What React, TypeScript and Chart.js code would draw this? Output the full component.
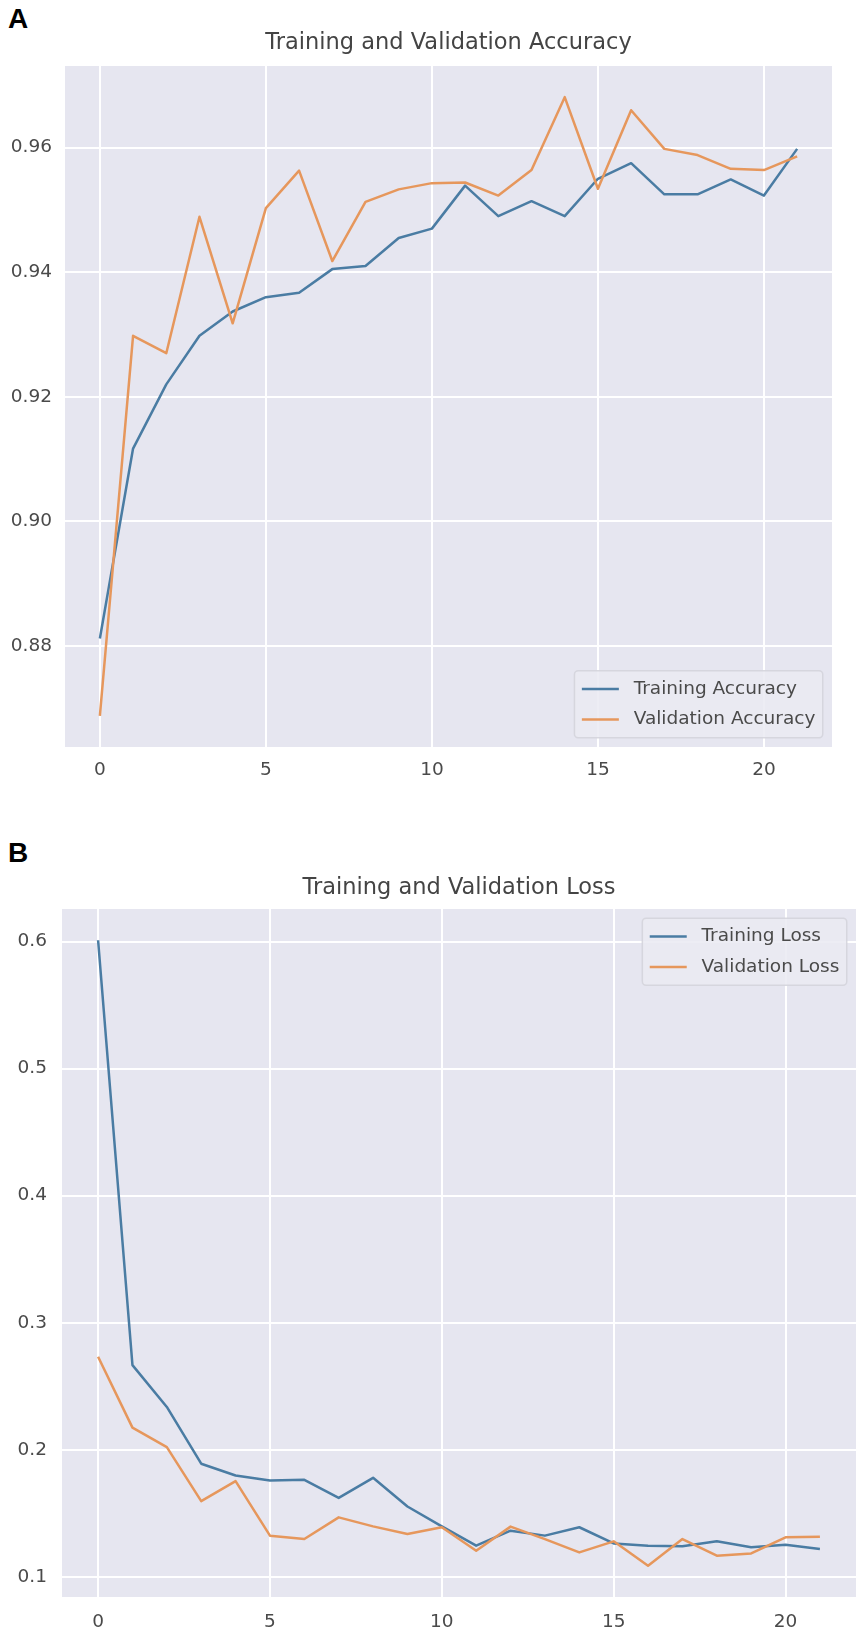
import React, { useEffect, useRef } from "react";
import { Chart, registerables } from "chart.js";

Chart.register(...registerables);

// epochs on the x axis
const epochs = [0, 1, 2, 3, 4, 5, 6, 7, 8, 9, 10, 11, 12, 13, 14, 15, 16, 17, 18, 19, 20, 21];

// panel A
const trainingAccuracy = [
    0.8812, 0.9117, 0.922, 0.9298, 0.9337, 0.936, 0.9367, 0.9405, 0.941, 0.9455, 0.947,
    0.9539, 0.949, 0.9514, 0.949, 0.955, 0.9575, 0.9525, 0.9525, 0.9549, 0.9523, 0.9598,
];
const validationAccuracy = [
    0.8688, 0.9298, 0.927, 0.9489, 0.9318, 0.9503, 0.9563, 0.9418, 0.9513, 0.9533, 0.9543,
    0.9544, 0.9523, 0.9564, 0.9681, 0.9534, 0.966, 0.9598, 0.9588, 0.9566, 0.9564, 0.9586,
];

// panel B
const trainingLoss = [
    0.601, 0.2666, 0.2337, 0.189, 0.1797, 0.1758, 0.1763, 0.1621, 0.1779, 0.1553, 0.1397,
    0.1245, 0.1363, 0.1324, 0.139, 0.1263, 0.1245, 0.124, 0.1279, 0.1232, 0.1253, 0.1218,
];
const validationLoss = [
    0.2732, 0.2174, 0.2021, 0.1595, 0.1753, 0.1324, 0.1297, 0.1468, 0.1397, 0.1337, 0.139,
    0.1205, 0.1395, 0.1297, 0.1192, 0.1279, 0.1087, 0.1297, 0.1166, 0.1184, 0.1311, 0.1316,
];

const FONT = '"DejaVu Sans", sans-serif';
const TICK_SIZE = 18.5;
const TITLE_SIZE = 22.5;
const TEXT_COLOR = "#4a4a4a";
const BLUE = "#4a7ca3";
const ORANGE = "#e6975c";
const PLOT_BG = "#e6e6f0";

const plotBackground = {
    id: "plotBackground",
    beforeDraw(chart: any, _args: any, opts: any) {
        const { ctx, chartArea } = chart;
        ctx.save();
        ctx.fillStyle = opts.color;
        ctx.fillRect(chartArea.left, chartArea.top, chartArea.width, chartArea.height);
        ctx.restore();
    },
};

// title centred over the plot, not the whole canvas (like matplotlib)
const centerTitle = {
    id: "centerTitle",
    afterLayout(chart: any) {
        const t = chart.titleBlock;
        if (!t) return;
        t.left = chart.chartArea.left;
        t.right = chart.chartArea.right;
        t.width = t.right - t.left;
    },
};

// matplotlib style legend box inside the plot
const boxLegend = {
    id: "boxLegend",
    afterDraw(chart: any, _args: any, opts: any) {
        const { ctx, chartArea } = chart;
        const size = opts.fontSize;
        const items = chart.data.datasets.map((ds: any) => ({ text: ds.label, color: ds.borderColor }));
        const pad = 0.4 * size;
        const handle = 2 * size;
        const gap = 0.8 * size;
        const rowH = 1.16 * size;
        const spacing = 0.5 * size;
        const inset = 0.5 * size;

        ctx.save();
        ctx.font = `${size}px ${FONT}`;
        const textW = Math.max(...items.map((it: any) => ctx.measureText(it.text).width));
        const w = pad * 2 + handle + gap + textW;
        const h = pad * 2 + items.length * rowH + (items.length - 1) * spacing;
        const x = chartArea.right - inset - w;
        const y = opts.corner === "lower right" ? chartArea.bottom - inset - h : chartArea.top + inset;

        ctx.beginPath();
        if (ctx.roundRect) ctx.roundRect(x, y, w, h, 0.2 * size);
        else ctx.rect(x, y, w, h);
        ctx.fillStyle = "rgba(234, 234, 242, 0.85)";
        ctx.fill();
        ctx.lineWidth = 1.5;
        ctx.strokeStyle = "rgba(212, 212, 220, 0.9)";
        ctx.stroke();

        items.forEach((it: any, i: number) => {
            const cy = y + pad + rowH / 2 + i * (rowH + spacing);
            ctx.beginPath();
            ctx.moveTo(x + pad, cy);
            ctx.lineTo(x + pad + handle, cy);
            ctx.strokeStyle = it.color;
            ctx.lineWidth = 2.5;
            ctx.stroke();
            ctx.fillStyle = TEXT_COLOR;
            ctx.textAlign = "left";
            ctx.textBaseline = "middle";
            ctx.fillText(it.text, x + pad + handle + gap, cy);
        });
        ctx.restore();
    },
};

interface PanelProps {
    title: string;
    labels: string[];
    series: number[][];
    yMin: number;
    yMax: number;
    yStep: number;
    digits: number;
    legendCorner: string;
    yWidth: number;
    padRight: number;
    titleTop: number;
    titleBottom: number;
    xHeight: number;
    xPad: number;
    yPad: number;
}

const Panel = (props: PanelProps) => {
    const canvasRef = useRef<HTMLCanvasElement | null>(null);

    useEffect(() => {
        const ctx = canvasRef.current?.getContext("2d");
        if (!ctx) return;

        const tickFont = { family: FONT, size: TICK_SIZE };
        const colors = [BLUE, ORANGE];

        const chart = new Chart(ctx, {
            type: "line",
            data: {
                datasets: props.series.map((values, i) => ({
                    label: props.labels[i],
                    data: epochs.map((e, j) => ({ x: e, y: values[j] })),
                    borderColor: colors[i],
                    backgroundColor: colors[i],
                    borderWidth: 2.5,
                    borderJoinStyle: "round" as const,
                    pointRadius: 0,
                    tension: 0,
                    order: props.series.length - i,
                })),
            },
            options: {
                animation: false,
                responsive: true,
                maintainAspectRatio: false,
                layout: { padding: { left: 0, right: props.padRight, top: 0, bottom: 0 } },
                plugins: {
                    legend: { display: false },
                    tooltip: { enabled: false },
                    title: {
                        display: true,
                        text: props.title,
                        color: "#444444",
                        font: { family: FONT, size: TITLE_SIZE, weight: "normal", lineHeight: 1.2 },
                        padding: { top: props.titleTop, bottom: props.titleBottom },
                    },
                    plotBackground: { color: PLOT_BG },
                    boxLegend: { corner: props.legendCorner, fontSize: TICK_SIZE },
                } as any,
                scales: {
                    x: {
                        type: "linear",
                        min: -1.05,
                        max: 22.05,
                        ticks: {
                            stepSize: 5,
                            includeBounds: false,
                            padding: props.xPad,
                            color: TEXT_COLOR,
                            font: tickFont,
                        },
                        grid: { color: "#ffffff", lineWidth: 2, drawTicks: false },
                        border: { display: false },
                        afterFit: (scale: any) => {
                            scale.height = props.xHeight;
                        },
                    },
                    y: {
                        type: "linear",
                        min: props.yMin,
                        max: props.yMax,
                        ticks: {
                            stepSize: props.yStep,
                            includeBounds: false,
                            padding: props.yPad,
                            color: TEXT_COLOR,
                            font: tickFont,
                            callback: (v: any) => Number(v).toFixed(props.digits),
                        },
                        grid: { color: "#ffffff", lineWidth: 2, drawTicks: false },
                        border: { display: false },
                        afterFit: (scale: any) => {
                            scale.width = props.yWidth;
                        },
                    },
                },
            },
            plugins: [plotBackground, centerTitle, boxLegend],
        });

        return () => {
            chart.destroy();
        };
    }, []);

    return <canvas ref={canvasRef} />;
};

const panelLetter: React.CSSProperties = {
    position: "absolute",
    left: 8,
    fontFamily: '"Liberation Sans", Arial, sans-serif',
    fontWeight: "bold",
    fontSize: 28,
    lineHeight: 1,
    color: "#000",
};

export default function App() {
    return (
        <div style={{ position: "absolute", left: 0, top: 0, width: 862, height: 1640, background: "#fff" }}>
            <div style={{ ...panelLetter, top: 5 }}>A</div>
            <div style={{ position: "absolute", left: 0, top: 0, width: 862, height: 800 }}>
                <Panel
                    title="Training and Validation Accuracy"
                    labels={["Training Accuracy", "Validation Accuracy"]}
                    series={[trainingAccuracy, validationAccuracy]}
                    yMin={0.8638}
                    yMax={0.9731}
                    yStep={0.02}
                    digits={2}
                    legendCorner="lower right"
                    yWidth={65}
                    padRight={30}
                    titleTop={29.5}
                    titleBottom={9.5}
                    xHeight={53}
                    xPad={12}
                    yPad={13}
                />
            </div>
            <div style={{ ...panelLetter, top: 839 }}>B</div>
            <div style={{ position: "absolute", left: 0, top: 800, width: 862, height: 840 }}>
                <Panel
                    title="Training and Validation Loss"
                    labels={["Training Loss", "Validation Loss"]}
                    series={[trainingLoss, validationLoss]}
                    yMin={0.0841}
                    yMax={0.6256}
                    yStep={0.1}
                    digits={1}
                    legendCorner="upper right"
                    yWidth={62}
                    padRight={6}
                    titleTop={74.5}
                    titleBottom={7.5}
                    xHeight={43}
                    xPad={14}
                    yPad={15}
                />
            </div>
        </div>
    );
}
